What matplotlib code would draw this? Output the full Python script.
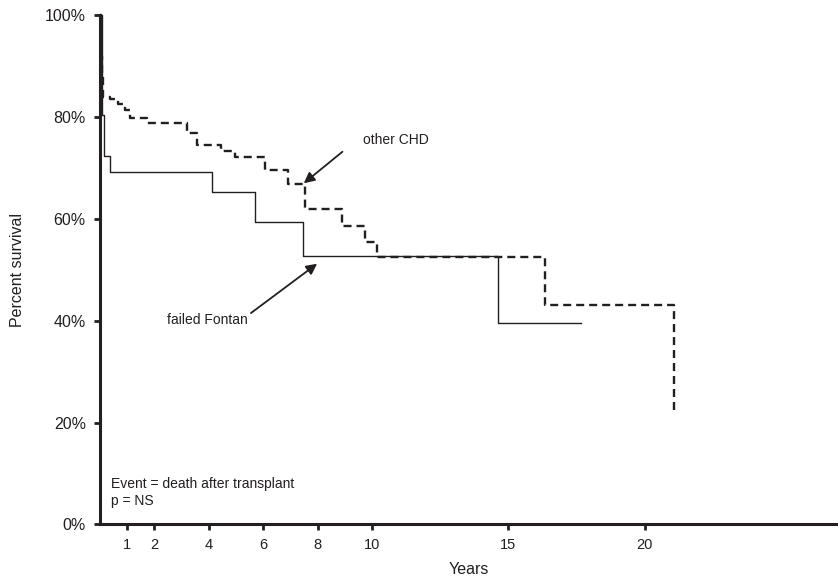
import matplotlib
matplotlib.use("Agg")
import matplotlib.pyplot as plt

plt.rcParams['font.family'] = ['Liberation Sans', 'DejaVu Sans']

# failed Fontan (solid)
fontan_t = [0, 0.08, 0.16, 0.38, 4.11, 5.70, 7.47, 14.62, 17.68]
fontan_s = [100, 80.5, 72.4, 69.2, 65.2, 59.3, 52.8, 39.5, 39.5]

# other CHD (dashed)
chd_t = [0, 0.03, 0.06, 0.10, 0.13, 0.38, 0.67, 0.93, 1.11, 1.72, 3.20, 3.56,
         4.47, 4.96, 6.06, 6.92, 7.53, 8.88, 9.73, 10.17, 16.34, 21.07, 21.07]
chd_s = [100, 96, 92, 88, 84, 83.5, 82.5, 81.3, 79.8, 78.8, 76.8, 74.5,
         73.3, 72.2, 69.6, 66.8, 61.9, 58.6, 55.5, 52.6, 43.1, 21.5, 21.5]

x_ticks = [1, 2, 4, 6, 8, 10, 15, 20]
y_ticks = [0, 20, 40, 60, 80, 100]
y_labels = ['0%', '20%', '40%', '60%', '80%', '100%']

ink = '#231f20'

fig = plt.figure(figsize=(8.38, 5.80), dpi=100)
ax = fig.add_axes([0.119, 0.096, 0.881, 0.8776])

ax.step(fontan_t, fontan_s, where='post', color=ink, lw=1.0, clip_on=False)
ax.step(chd_t, chd_s, where='post', color=ink, lw=1.7, dashes=(3.4, 2.1), clip_on=False)

ax.set_xlim(0, 27.1)
ax.set_ylim(0, 100)
ax.set_xticks(x_ticks)
ax.set_xticklabels([str(v) for v in x_ticks])
ax.set_yticks(y_ticks)
ax.set_yticklabels(y_labels)

for s in ['top', 'right']:
    ax.spines[s].set_visible(False)
for s in ['left', 'bottom']:
    ax.spines[s].set_linewidth(2.2)
    ax.spines[s].set_color(ink)
ax.tick_params(axis='both', direction='out', length=4, width=2.0, color=ink,
               labelcolor=ink, labelsize=11.5)
ax.tick_params(axis='x', pad=6, labelsize=10.5)
ax.tick_params(axis='y', pad=6)

ax.set_xlabel('Years', fontsize=11.5, color=ink, labelpad=7)
ax.set_ylabel('Percent survival', fontsize=11.5, color=ink, labelpad=14)

arrow = dict(arrowstyle='-|>', mutation_scale=16, lw=1.3, color=ink, shrinkA=0, shrinkB=0)
ax.annotate('', xy=(7.49, 67.0), xytext=(8.91, 73.2), arrowprops=arrow)
ax.text(9.65, 75.6, 'other CHD', fontsize=10, color=ink, ha='left', va='center')

ax.annotate('', xy=(7.98, 51.2), xytext=(5.55, 41.5), arrowprops=arrow)
ax.text(5.45, 40.1, 'failed Fontan', fontsize=10, color=ink, ha='right', va='center')

ax.text(0.41, 7.9, 'Event = death after transplant', fontsize=10, color=ink,
        ha='left', va='center')
ax.text(0.41, 4.6, 'p = NS', fontsize=10, color=ink, ha='left', va='center')

fig.savefig('out.png', dpi=100)
